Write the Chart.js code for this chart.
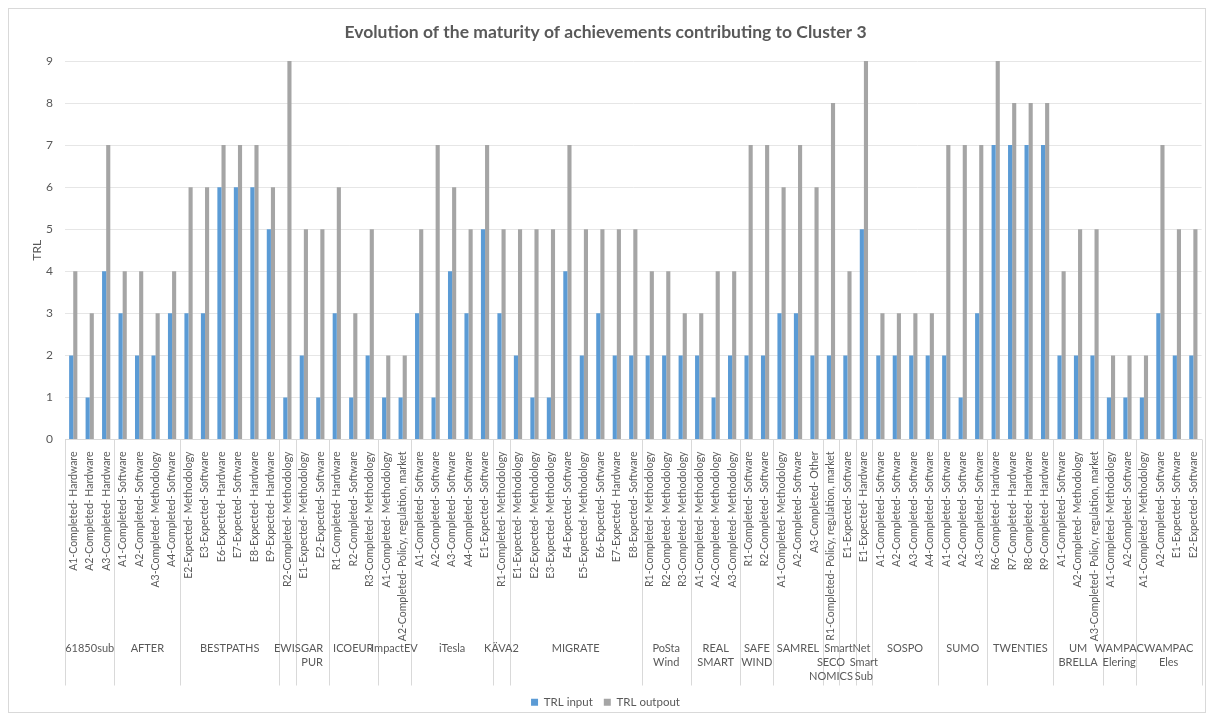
<!DOCTYPE html>
<html>
<head>
    <meta charset="UTF-8">
    <title>Evolution of the maturity of achievements contributing to Cluster 3</title>
    <script src="https://cdn.jsdelivr.net/npm/chart.js"></script>
    <style>
        body {
            margin: 0;
            background-color: #ffffff;
            font-family: Lato, 'Liberation Sans', sans-serif;
        }
        .wrap {
            position: relative;
            width: 1210px;
            height: 718px;
        }
    </style>
</head>
<body>
<div class="wrap">
    <canvas id="trlChart"></canvas>
</div>

<script>
    // projects (group labels, already wrapped the way the picture shows them)
    const groupLines = [
        ['61850sub'], ['AFTER'], ['BESTPATHS'], ['EWIS'], ['GAR', 'PUR'], ['ICOEUR'], ['ImpactEV'],
        ['iTesla'], ['KÄVA2'], ['MIGRATE'], ['PoSta', 'Wind'], ['REAL', 'SMART'], ['SAFE', 'WIND'],
        ['SAMREL'], ['', 'SECO', 'NOMICS'], ['SmartNet'], ['', 'Smart', 'Sub'], ['SOSPO'], ['SUMO'],
        ['TWENTIES'], ['UM', 'BRELLA'], ['WAMPAC', 'Elering'], ['WAMPAC', 'Eles']
    ];
    const groupSizes = [3, 4, 6, 1, 2, 3, 2, 5, 1, 8, 3, 3, 2, 3, 1, 1, 1, 4, 3, 4, 3, 2, 4];

    const achievements = [
        'A1-Completed- Hardware', 'A2-Completed- Hardware', 'A3-Completed- Hardware',
        'A1-Completed- Software', 'A2-Completed- Software', 'A3-Completed- Methodology', 'A4-Completed- Software',
        'E2-Expected- Methodology', 'E3-Expected- Software', 'E6-Expected- Hardware', 'E7-Expected- Software', 'E8-Expected- Hardware', 'E9-Expected- Hardware',
        'R2-Completed- Methodology',
        'E1-Expected- Methodology', 'E2-Expected- Software',
        'R1-Completed- Hardware', 'R2-Completed- Software', 'R3-Completed- Methodology',
        'A1-Completed- Methodology', 'A2-Completed- Policy, regulation, market',
        'A1-Completed- Software', 'A2-Completed- Software', 'A3-Completed- Software', 'A4-Completed- Software', 'E1-Expected- Software',
        'R1-Completed- Methodology',
        'E1-Expected- Methodology', 'E2-Expected- Methodology', 'E3-Expected- Methodology', 'E4-Expected- Software',
        'E5-Expected- Methodology', 'E6-Expected- Software', 'E7-Expected- Hardware', 'E8-Expected- Software',
        'R1-Completed- Methodology', 'R2-Completed- Methodology', 'R3-Completed- Methodology',
        'A1-Completed- Methodology', 'A2-Completed- Methodology', 'A3-Completed- Methodology',
        'R1-Completed- Software', 'R2-Completed- Software',
        'A1-Completed- Methodology', 'A2-Completed- Software', 'A3-Completed- Other',
        'R1-Completed- Policy, regulation, market',
        'E1-Expected- Software',
        'E1-Expected- Hardware',
        'A1-Completed- Software', 'A2-Completed- Software', 'A3-Completed- Software', 'A4-Completed- Software',
        'A1-Completed- Software', 'A2-Completed- Software', 'A3-Completed- Software',
        'R6-Completed- Hardware', 'R7-Completed- Hardware', 'R8-Completed- Hardware', 'R9-Completed- Hardware',
        'A1-Completed- Software', 'A2-Completed- Methodology', 'A3-Completed- Policy, regulation, market',
        'A1-Completed- Methodology', 'A2-Completed- Software',
        'A1-Completed- Methodology', 'A2-Completed- Software', 'E1-Expected- Software', 'E2-Expected- Software'
    ];

    const trlInput = [
        2, 1, 4,
        3, 2, 2, 3,
        3, 3, 6, 6, 6, 5,
        1,
        2, 1,
        3, 1, 2,
        1, 1,
        3, 1, 4, 3, 5,
        3,
        2, 1, 1, 4, 2, 3, 2, 2,
        2, 2, 2,
        2, 1, 2,
        2, 2,
        3, 3, 2,
        2,
        2,
        5,
        2, 2, 2, 2,
        2, 1, 3,
        7, 7, 7, 7,
        2, 2, 2,
        1, 1,
        1, 3, 2, 2
    ];
    const trlOutput = [
        4, 3, 7,
        4, 4, 3, 4,
        6, 6, 7, 7, 7, 6,
        9,
        5, 5,
        6, 3, 5,
        2, 2,
        5, 7, 6, 5, 7,
        5,
        5, 5, 5, 7, 5, 5, 5, 5,
        4, 4, 3,
        3, 4, 4,
        7, 7,
        6, 7, 6,
        8,
        4,
        9,
        3, 3, 3, 3,
        7, 7, 7,
        9, 8, 8, 8,
        4, 5, 5,
        2, 2,
        2, 7, 5, 5
    ];

    const axisGrey = '#d9d9d9';
    const textGrey = '#595959';

    // frame, group dividers and project names under the achievement labels
    const groupAxis = {
        id: 'groupAxis',
        afterDraw(chart) {
            const ctx = chart.ctx;
            const x = chart.scales.x;
            const half = (x.getPixelForValue(1) - x.getPixelForValue(0)) / 2;
            ctx.save();
            ctx.strokeStyle = axisGrey;
            ctx.lineWidth = 1;
            ctx.strokeRect(8.5, 8.5, 1197, 704);

            let start = 0;
            const edges = [x.getPixelForValue(0) - half];
            groupSizes.forEach(n => {
                edges.push(x.getPixelForValue(start + n - 1) + half);
                start += n;
            });
            edges.forEach(e => {
                const px = Math.round(e) + 0.5;
                ctx.beginPath();
                ctx.moveTo(px, x.top);
                ctx.lineTo(px, x.bottom);
                ctx.stroke();
            });

            ctx.fillStyle = textGrey;
            ctx.font = '11px Lato, "Liberation Sans", sans-serif';
            ctx.textAlign = 'center';
            ctx.textBaseline = 'middle';
            groupLines.forEach((lines, i) => {
                const cx = (edges[i] + edges[i + 1]) / 2;
                lines.forEach((t, j) => {
                    if (t) ctx.fillText(t, cx, x.bottom - 37 + j * 14);
                });
            });
            ctx.restore();
        }
    };

    const ctx = document.getElementById('trlChart').getContext('2d');
    const trlChart = new Chart(ctx, {
        type: 'bar',
        data: {
            labels: achievements,
            datasets: [{
                label: 'TRL input',
                data: trlInput,
                backgroundColor: '#5b9bd5',
                categoryPercentage: 0.5,
                barPercentage: 1.0
            }, {
                label: 'TRL outpout',
                data: trlOutput,
                backgroundColor: '#a5a5a5',
                categoryPercentage: 0.5,
                barPercentage: 1.0
            }]
        },
        options: {
            responsive: true,
            maintainAspectRatio: false,
            animation: false,
            layout: { padding: { top: 14, left: 8, right: 7, bottom: 0 } },
            plugins: {
                title: {
                    display: true,
                    text: 'Evolution of the maturity of achievements contributing to Cluster 3',
                    color: textGrey,
                    font: { family: 'Lato', size: 17.5, weight: 'bold' },
                    padding: { top: 8, bottom: 18 }
                },
                legend: {
                    position: 'bottom',
                    labels: {
                        color: textGrey,
                        font: { family: 'Lato', size: 11.5 },
                        boxWidth: 7,
                        boxHeight: 7,
                        padding: 11
                    }
                },
                tooltip: { enabled: false }
            },
            scales: {
                x: {
                    grid: { display: false },
                    border: { display: true, color: axisGrey },
                    ticks: {
                        autoSkip: false,
                        minRotation: 90,
                        maxRotation: 90,
                        padding: 4,
                        color: textGrey,
                        font: { family: 'Lato', size: 10.5 }
                    },
                    afterFit: s => { s.height = 246; }
                },
                y: {
                    min: 0,
                    max: 9,
                    ticks: {
                        stepSize: 1,
                        padding: 12,
                        color: textGrey,
                        font: { family: 'Lato', size: 12 }
                    },
                    grid: { color: '#e6e6e6', drawTicks: false },
                    border: { display: false },
                    title: {
                        display: true,
                        text: 'TRL',
                        color: textGrey,
                        font: { family: 'Lato', size: 12 },
                        padding: { top: 22, bottom: 0 }
                    },
                    afterFit: s => { s.width = 57; }
                }
            }
        },
        plugins: [groupAxis]
    });
</script>
</body>
</html>
